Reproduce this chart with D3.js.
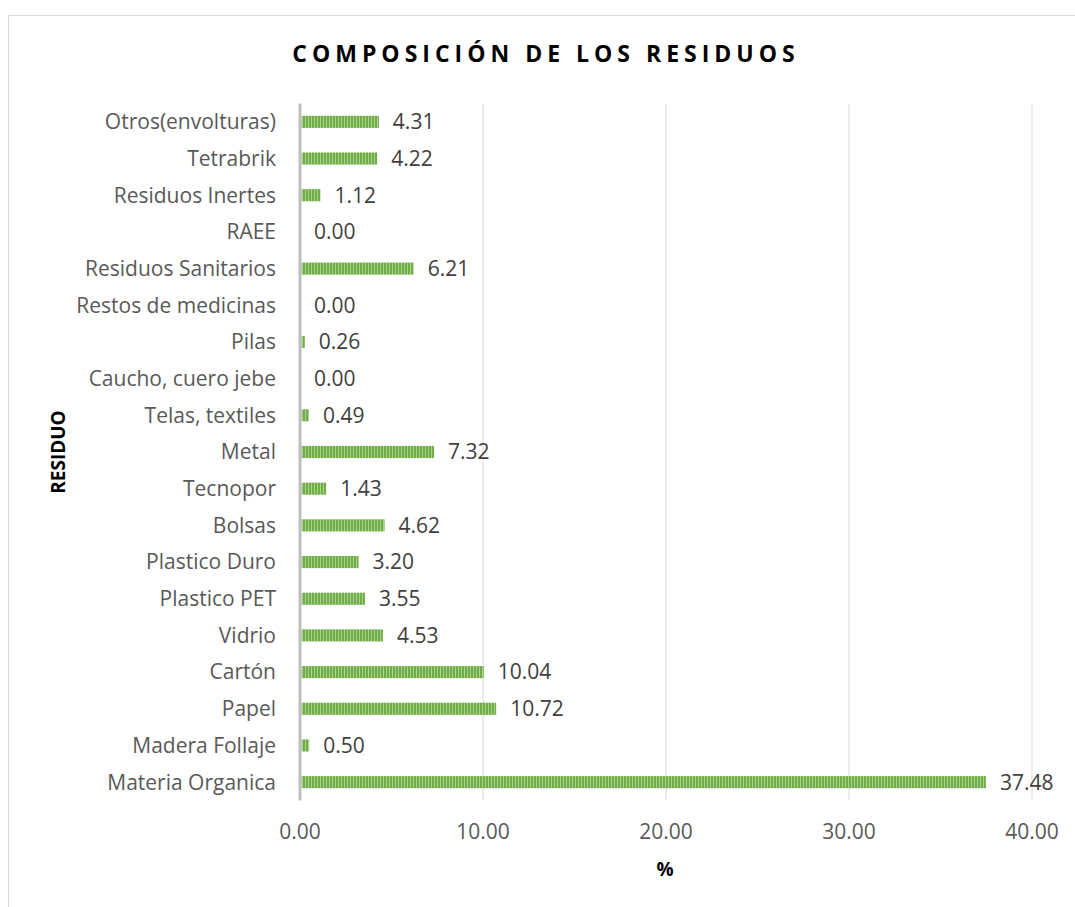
<!DOCTYPE html>
<html>
<head>
<meta charset="utf-8">
<script src="https://cdn.jsdelivr.net/npm/d3@7"></script>
<style>
  body { margin: 0; background: #fff; }
  svg text { font-family: "Open Sans", "Noto Sans", sans-serif; }
</style>
</head>
<body>
<div id="chart"></div>
<script>
// Data, bottom to top in the chart
const residuos = [
    'Materia Organica', 'Madera Follaje', 'Papel', 'Cartón', 'Vidrio',
    'Plastico PET', 'Plastico Duro', 'Bolsas', 'Tecnopor', 'Metal',
    'Telas, textiles', 'Caucho, cuero jebe', 'Pilas', 'Restos de medicinas',
    'Residuos Sanitarios', 'RAEE', 'Residuos Inertes', 'Tetrabrik', 'Otros(envolturas)'
];
const porcentajes = [
    37.48, 0.50, 10.72, 10.04, 4.53,
    3.55, 3.20, 4.62, 1.43, 7.32,
    0.49, 0.00, 0.26, 0.00,
    6.21, 0.00, 1.12, 4.22, 4.31
];
const xTicks = [0, 10, 20, 30, 40];

const width = 1075, height = 907;
const margin = { left: 300, right: 43, top: 103.5, bottom: 106.5 };

const svg = d3.select('#chart').append('svg')
    .attr('width', width)
    .attr('height', height);

// striped fill like the original
const defs = svg.append('defs');
const pat = defs.append('pattern')
    .attr('id', 'stripes')
    .attr('patternUnits', 'userSpaceOnUse')
    .attr('width', 3)
    .attr('height', 10);
pat.append('rect').attr('width', 3).attr('height', 10).attr('fill', '#a9d18e');
pat.append('rect').attr('width', 2).attr('height', 10).attr('fill', '#70ad47');

// chart frame
svg.append('rect')
    .attr('x', 8.5).attr('y', 15.5)
    .attr('width', width + 10).attr('height', height + 10)
    .attr('fill', 'none')
    .attr('stroke', '#d9d9d9');

const x = d3.scaleLinear()
    .domain([0, 40])
    .range([margin.left, width - margin.right]);

const y = d3.scaleBand()
    .domain(residuos)
    .range([height - margin.bottom, margin.top])
    .paddingInner(0.67)
    .paddingOuter(0.335);

// gridlines
svg.append('g')
    .selectAll('line')
    .data(xTicks.slice(1))
    .enter().append('line')
    .attr('x1', d => x(d)).attr('x2', d => x(d))
    .attr('y1', margin.top).attr('y2', height - margin.bottom)
    .attr('stroke', '#d9d9d9')
    .attr('stroke-width', 1);

// bars
svg.append('g')
    .selectAll('rect')
    .data(porcentajes)
    .enter().append('rect')
    .attr('x', x(0) + 1.5)
    .attr('y', (d, i) => y(residuos[i]))
    .attr('width', d => Math.max(0, x(d) - x(0) - 1.5))
    .attr('height', y.bandwidth())
    .attr('fill', 'url(#stripes)');

// value labels
svg.append('g')
    .selectAll('text')
    .data(porcentajes)
    .enter().append('text')
    .attr('x', d => x(d) + 14)
    .attr('y', (d, i) => y(residuos[i]) + y.bandwidth() / 2)
    .attr('dy', '0.35em')
    .attr('font-size', 21)
    .attr('fill', '#404040')
    .text(d => d.toFixed(2));

// vertical axis line
svg.append('line')
    .attr('x1', x(0)).attr('x2', x(0))
    .attr('y1', margin.top).attr('y2', height - margin.bottom)
    .attr('stroke', '#bfbfbf')
    .attr('stroke-width', 3);

// category labels
svg.append('g')
    .selectAll('text')
    .data(residuos)
    .enter().append('text')
    .attr('x', 276)
    .attr('y', d => y(d) + y.bandwidth() / 2)
    .attr('dy', '0.35em')
    .attr('text-anchor', 'end')
    .attr('font-size', 21)
    .attr('fill', '#595959')
    .text(d => d);

// x tick labels
svg.append('g')
    .selectAll('text')
    .data(xTicks)
    .enter().append('text')
    .attr('x', d => x(d))
    .attr('y', 832)
    .attr('dy', '0.35em')
    .attr('text-anchor', 'middle')
    .attr('font-size', 21)
    .attr('fill', '#595959')
    .text(d => d.toFixed(2));

// axis titles
svg.append('text')
    .attr('x', 665).attr('y', 869)
    .attr('dy', '0.35em')
    .attr('text-anchor', 'middle')
    .attr('font-size', 19)
    .attr('font-weight', 'bold')
    .attr('fill', '#000')
    .text('%');

svg.append('text')
    .attr('transform', 'translate(58,452) rotate(-90)')
    .attr('dy', '0.35em')
    .attr('text-anchor', 'middle')
    .attr('font-size', 19)
    .attr('font-weight', 'bold')
    .attr('fill', '#000')
    .text('RESIDUO');

// title
svg.append('text')
    .attr('x', 546).attr('y', 54)
    .attr('dy', '0.35em')
    .attr('text-anchor', 'middle')
    .attr('font-size', 23)
    .attr('font-weight', 'bold')
    .attr('letter-spacing', 5)
    .attr('fill', '#000')
    .text('COMPOSICIÓN DE LOS RESIDUOS');
</script>
</body>
</html>
